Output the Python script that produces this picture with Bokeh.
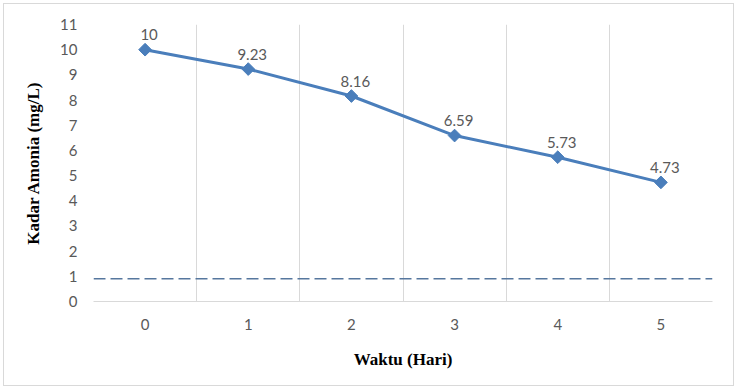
import numpy as np
from bokeh.plotting import figure
from bokeh.models import Range1d, FixedTicker, ColumnDataSource, LabelSet, Span
from bokeh.core.properties import value
from bokeh.embed import file_html
from bokeh.resources import INLINE

# ---- data ----
days = [0, 1, 2, 3, 4, 5]
ammonia = [10, 9.23, 8.16, 6.59, 5.73, 4.73]
labels = ["10", "9.23", "8.16", "6.59", "5.73", "4.73"]
threshold = 0.9
y_ticks = list(range(0, 12))
x_title = "Waktu (Hari)"
y_title = "Kadar Amonia (mg/L)"

TICK_FONT = "Lato"
TITLE_FONT = "Liberation Serif"
GRAY_TXT = "#595959"
GRID = "#d9d9d9"
BLUE = "#4a7ebb"

p = figure(width=737, height=389, output_backend="svg", toolbar_location=None,
           x_range=Range1d(-0.5, 5.5), y_range=Range1d(0, 11),
           min_border_left=93, min_border_right=25, min_border_top=24,
           min_border_bottom=88)
p.outline_line_color = None
p.background_fill_color = "white"
p.border_fill_color = None
p.styles = {"background-color": "white",
            "box-shadow": "inset 0 0 0 3px white, inset 0 0 0 4px #d9d9d9"}

# grid: vertical lines at category boundaries only
p.xgrid.ticker = FixedTicker(ticks=[d - 0.5 for d in days] + [days[-1] + 0.5])
p.xgrid.grid_line_color = GRID
p.xgrid.grid_line_width = 1
p.ygrid.grid_line_color = None

# x axis
p.xaxis.ticker = FixedTicker(ticks=days)
p.xaxis.axis_line_color = GRID
p.xaxis.major_tick_line_color = None
p.xaxis.minor_tick_line_color = None
p.xaxis.major_tick_out = 0
p.xaxis.major_tick_in = 0
p.xaxis.minor_tick_out = 0
p.xaxis.major_label_text_font = TICK_FONT
p.xaxis.major_label_text_font_size = "15px"
p.xaxis.major_label_text_color = GRAY_TXT
p.xaxis.major_label_standoff = 17
p.xaxis.axis_label = x_title
p.xaxis.axis_label_text_font = TITLE_FONT
p.xaxis.axis_label_text_font_style = "bold"
p.xaxis.axis_label_text_font_size = "17px"
p.xaxis.axis_label_text_color = "black"
p.xaxis.axis_label_standoff = 17

# y axis
p.yaxis.ticker = FixedTicker(ticks=y_ticks)
p.yaxis.axis_line_color = None
p.yaxis.major_tick_line_color = None
p.yaxis.minor_tick_line_color = None
p.yaxis.major_tick_out = 0
p.yaxis.major_tick_in = 0
p.yaxis.minor_tick_out = 0
p.yaxis.major_label_text_font = TICK_FONT
p.yaxis.major_label_text_font_size = "15px"
p.yaxis.major_label_text_color = GRAY_TXT
p.yaxis.major_label_standoff = 16
p.yaxis.axis_label = y_title
p.yaxis.axis_label_text_font = TITLE_FONT
p.yaxis.axis_label_text_font_style = "bold"
p.yaxis.axis_label_text_font_size = "17px"
p.yaxis.axis_label_text_color = "black"
p.yaxis.axis_label_standoff = 14

# threshold dashed line
p.add_layout(Span(location=threshold, dimension="width", line_color="#56779e",
                  line_width=1.5, line_dash="12 5"))

src = ColumnDataSource(dict(x=days, y=ammonia, lab=labels))
p.line("x", "y", source=src, line_color=BLUE, line_width=3)
p.scatter("x", "y", source=src, marker="square", size=9, angle=np.pi / 4,
          fill_color=BLUE, line_color=BLUE)

p.add_layout(LabelSet(x="x", y="y", text="lab", source=src, x_offset=4, y_offset=15,
                      text_align="center", text_baseline="middle",
                      text_font=value(TICK_FONT), text_font_size=value("15px"),
                      text_color=GRAY_TXT))

open("out.html", "w").write(file_html(p, INLINE))
